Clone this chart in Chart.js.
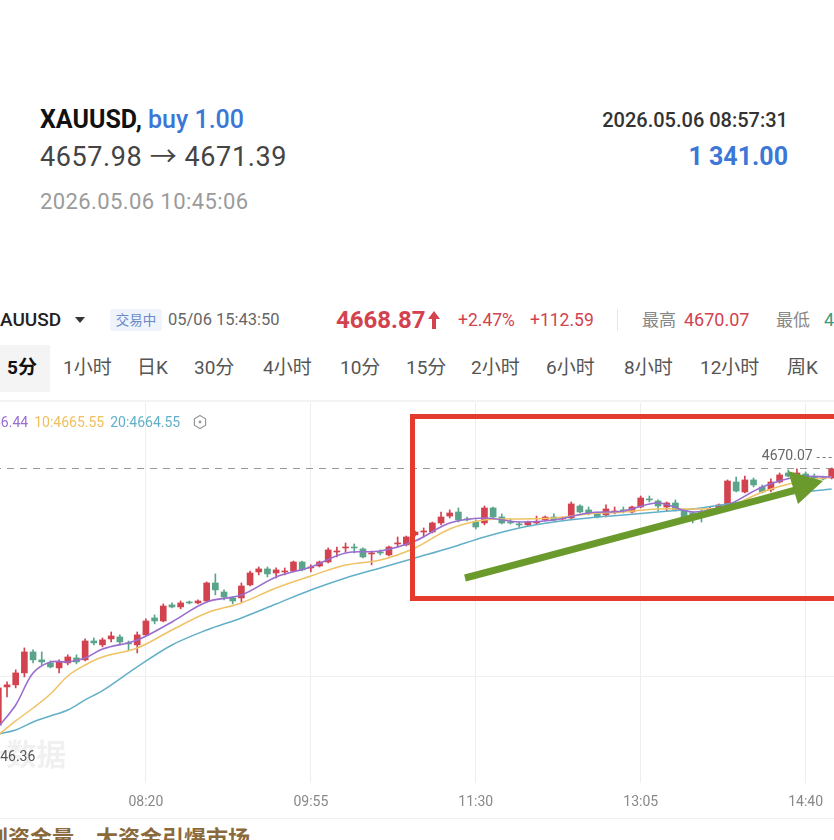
<!DOCTYPE html>
<html>
<head>
<meta charset="utf-8">
<script src="https://cdn.jsdelivr.net/npm/chart.js@4.4.1/dist/chart.umd.min.js"></script>
<style>
  html, body { margin: 0; padding: 0; background: #fff; }
  body { width: 834px; height: 840px; overflow: hidden; position: relative;
         font-family: Roboto, "Noto Sans CJK SC", sans-serif; }
  .abs { position: absolute; white-space: nowrap; }
  .red { color: #d2424f; }
  .tab { position: absolute; top: 356px; font-size: 19px; line-height: 24px; color: #555; white-space: nowrap; }
  .lg { font-size: 14px; line-height: 18px; margin-right: 6px; }
</style>
</head>
<body>

<!-- trade header -->
<div class="abs" style="left:40px;top:105px;font-size:25px;line-height:30px;">
  <b style="color:#111">XAUUSD,</b> <span style="color:#3b77d6;font-weight:500">buy 1.00</span>
</div>
<div class="abs" style="left:40px;top:141px;font-size:27px;line-height:32px;color:#444;letter-spacing:0.6px">4657.98 → 4671.39</div>
<div class="abs" style="left:40px;top:190px;font-size:22px;line-height:24px;color:#9b9b9b;letter-spacing:0.4px">2026.05.06 10:45:06</div>
<div class="abs" style="right:46px;top:108px;font-size:20px;line-height:24px;color:#333;font-weight:500">2026.05.06 08:57:31</div>
<div class="abs" style="right:46px;top:142px;font-size:25px;line-height:30px;color:#3b77d6;font-weight:700">1 341.00</div>

<!-- quote bar -->
<div class="abs" style="left:-12px;top:308px;font-size:19px;line-height:24px;color:#222;font-weight:500">XAUUSD</div>
<div class="abs" style="left:75px;top:317px;width:0;height:0;border-left:5px solid transparent;border-right:5px solid transparent;border-top:6px solid #333"></div>
<div class="abs" style="left:110px;top:309px;width:52px;height:22px;background:#eef3fc;border-radius:3px;color:#6a88c8;font-size:13.5px;line-height:22px;text-align:center">交易中</div>
<div class="abs" style="left:168px;top:310px;font-size:16.5px;line-height:20px;color:#666">05/06 15:43:50</div>
<div class="abs red" style="left:336px;top:306px;font-size:24px;line-height:28px;font-weight:700">4668.87</div>
<svg class="abs" style="left:427px;top:310px" width="14" height="20" viewBox="0 0 14 20">
  <path d="M7 1 L13 9 L9 9 L9 19 L5 19 L5 9 L1 9 Z" fill="#d2424f"/>
</svg>
<div class="abs red" style="left:458px;top:309px;font-size:17.5px;line-height:22px">+2.47%</div>
<div class="abs red" style="left:530px;top:309px;font-size:17.5px;line-height:22px">+112.59</div>
<div class="abs" style="left:617px;top:309px;width:1px;height:22px;background:#e6e6e6"></div>
<div class="abs" style="left:642px;top:309px;font-size:17px;line-height:22px;color:#888">最高</div>
<div class="abs red" style="left:684px;top:309px;font-size:18px;line-height:22px">4670.07</div>
<div class="abs" style="left:776px;top:309px;font-size:17px;line-height:22px;color:#888">最低</div>
<div class="abs" style="left:824px;top:309px;font-size:18px;line-height:22px;color:#3a9a7c">4646.36</div>

<!-- period tabs -->
<div class="abs" style="left:0;top:345px;width:50px;height:47px;background:#f4f4f4"></div>
<div class="tab" style="left:7px;color:#111;font-weight:700">5分</div>
<div class="tab" style="left:63px">1小时</div>
<div class="tab" style="left:137px">日K</div>
<div class="tab" style="left:194px">30分</div>
<div class="tab" style="left:263px">4小时</div>
<div class="tab" style="left:340px">10分</div>
<div class="tab" style="left:406px">15分</div>
<div class="tab" style="left:471px">2小时</div>
<div class="tab" style="left:546px">6小时</div>
<div class="tab" style="left:624px">8小时</div>
<div class="tab" style="left:700px">12小时</div>
<div class="tab" style="left:787px">周K</div>

<div class="abs" style="left:0;top:400px;width:834px;height:2px;background:#f3f3f3"></div>

<!-- chart -->
<div class="abs" style="left:-6px;top:403px;width:842px;height:410px">
  <canvas id="kline" width="842" height="410"></canvas>
</div>

<!-- MA legend -->
<div class="abs" style="left:-34px;top:412px">
  <span class="lg" style="color:#9a6dd0">5:4666.44</span><span class="lg" style="color:#eebf5c">10:4665.55</span><span class="lg" style="color:#62b0c8">20:4664.55</span>
</div>
<svg class="abs" style="left:192px;top:414px" width="16" height="16" viewBox="0 0 16 16">
  <path d="M8 1.5 L13.6 4.75 L13.6 11.25 L8 14.5 L2.4 11.25 L2.4 4.75 Z" fill="none" stroke="#999" stroke-width="1.2"/>
  <circle cx="8" cy="8" r="1.4" fill="#999"/>
</svg>

<div class="abs" style="left:0;top:818px;width:834px;height:1px;background:#f1f1f1"></div>
<div class="abs" style="left:-14px;top:824px;font-size:22px;line-height:30px;font-weight:700;color:#8a6a3c">到资金量　大资金引爆市场</div>

<!-- hand-drawn annotations -->
<svg class="abs" style="left:0;top:0;pointer-events:none" width="834" height="840">
  <rect x="412.5" y="416.5" width="440" height="182" fill="none" stroke="#e33b2e" stroke-width="5"/>
  <line x1="465" y1="578" x2="796" y2="490" stroke="#6b9a2c" stroke-width="7"/>
  <polygon points="823,481 788,471 798,504" fill="#6b9a2c"/>
</svg>

<script>
// --- 5-minute candles, 06:55 to 14:55 ---
const times = Array.from({ length: 97 }, (_, i) => {
  const m = 6 * 60 + 55 + 5 * i;
  return String(Math.floor(m / 60)).padStart(2, '0') + ':' + String(m % 60).padStart(2, '0');
});
const tickLabels = ['08:20', '09:55', '11:30', '13:05', '14:40'];

const opens = [
  4648.99, 4652.11, 4652.28, 4653.26, 4654.98, 4654.33, 4654.08, 4653.67, 4654.08, 4654.49,
  4654.33, 4655.88, 4655.56, 4656.05, 4656.21, 4655.72, 4655.56, 4656.38, 4657.77, 4657.52,
  4658.84, 4658.67, 4659.08, 4659.00, 4659.16, 4660.64, 4659.90, 4659.41, 4659.41, 4660.48,
  4661.54, 4661.79, 4661.46, 4661.54, 4661.62, 4662.36, 4661.87, 4662.03, 4662.36, 4663.18,
  4663.51, 4663.59, 4663.43, 4663.02, 4663.18, 4662.94, 4663.84, 4663.76, 4664.58, 4664.82,
  4664.82, 4665.56, 4666.13, 4666.46, 4665.89, 4665.64, 4665.56, 4666.79, 4666.05, 4665.64,
  4665.48, 4665.40, 4665.56, 4665.81, 4666.05, 4665.89, 4665.97, 4666.95, 4666.63, 4666.38,
  4666.22, 4666.46, 4666.63, 4666.46, 4666.87, 4667.53, 4667.36, 4666.87, 4667.20, 4666.54,
  4666.38, 4666.38, 4666.46, 4666.46, 4667.12, 4668.92, 4668.10, 4669.09, 4668.51, 4668.27,
  4668.92, 4669.66, 4669.33, 4669.58, 4669.33, 4669.25, 4669.25
];
const highs = [
  4652.44, 4652.52, 4653.51, 4655.31, 4655.15, 4654.98, 4654.25, 4654.33, 4654.74, 4654.74,
  4656.05, 4656.13, 4656.13, 4656.62, 4656.38, 4655.88, 4656.62, 4657.69, 4658.02, 4658.92,
  4659.00, 4659.16, 4659.16, 4659.25, 4660.72, 4661.38, 4660.07, 4659.49, 4660.64, 4661.62,
  4661.95, 4661.95, 4661.87, 4661.87, 4662.44, 4662.44, 4662.12, 4662.44, 4663.51, 4663.59,
  4663.92, 4663.84, 4663.51, 4663.26, 4663.35, 4663.67, 4664.41, 4664.49, 4664.90, 4665.15,
  4665.64, 4666.46, 4666.63, 4666.79, 4666.05, 4665.81, 4666.95, 4666.87, 4666.30, 4665.89,
  4665.64, 4665.72, 4666.13, 4666.13, 4666.30, 4666.05, 4667.28, 4667.04, 4666.87, 4666.46,
  4667.04, 4666.87, 4666.87, 4666.95, 4667.77, 4667.77, 4667.45, 4667.28, 4667.45, 4666.63,
  4666.46, 4666.63, 4666.87, 4667.12, 4669.09, 4669.33, 4669.41, 4669.25, 4668.68, 4669.17,
  4669.66, 4669.91, 4669.99, 4669.74, 4669.58, 4669.41, 4670.07
];
const lows = [
  4646.36, 4651.29, 4652.03, 4652.93, 4654.08, 4653.92, 4653.67, 4653.26, 4653.92, 4654.00,
  4654.25, 4655.56, 4655.39, 4655.80, 4655.56, 4655.15, 4654.90, 4656.29, 4657.28, 4657.44,
  4658.59, 4658.51, 4658.92, 4658.92, 4659.08, 4659.66, 4659.25, 4658.92, 4659.08, 4660.39,
  4661.30, 4661.13, 4661.05, 4661.30, 4661.54, 4661.62, 4661.54, 4661.95, 4662.28, 4662.77,
  4663.18, 4663.10, 4662.69, 4662.12, 4662.94, 4662.85, 4663.59, 4663.67, 4664.49, 4664.41,
  4664.74, 4665.40, 4665.97, 4665.64, 4665.72, 4665.07, 4665.40, 4665.97, 4665.48, 4665.48,
  4665.23, 4665.31, 4665.48, 4665.72, 4665.72, 4665.81, 4665.89, 4666.38, 4666.22, 4665.97,
  4666.05, 4666.30, 4666.38, 4666.38, 4666.79, 4667.28, 4666.54, 4666.54, 4666.54, 4665.64,
  4665.56, 4665.64, 4666.30, 4666.38, 4667.04, 4668.10, 4668.02, 4668.51, 4668.02, 4668.10,
  4668.84, 4669.33, 4669.25, 4669.09, 4669.17, 4669.09, 4669.17
];
const closes = [
  4652.03, 4652.28, 4653.26, 4654.98, 4654.33, 4654.16, 4653.75, 4654.16, 4654.57, 4654.16,
  4655.88, 4655.72, 4655.97, 4656.29, 4655.80, 4655.64, 4656.38, 4657.52, 4657.52, 4658.75,
  4658.67, 4659.00, 4659.00, 4659.16, 4660.64, 4660.07, 4659.49, 4659.16, 4660.39, 4661.46,
  4661.79, 4661.38, 4661.71, 4661.62, 4662.36, 4661.71, 4661.95, 4662.36, 4663.35, 4663.26,
  4663.59, 4663.51, 4662.77, 4663.10, 4663.10, 4663.59, 4663.92, 4664.41, 4664.82, 4664.90,
  4665.56, 4666.05, 4666.38, 4665.81, 4665.81, 4665.23, 4666.79, 4666.05, 4665.56, 4665.56,
  4665.40, 4665.64, 4665.64, 4666.05, 4665.81, 4665.97, 4667.12, 4666.46, 4666.38, 4666.05,
  4666.71, 4666.54, 4666.54, 4666.87, 4667.61, 4667.45, 4666.95, 4667.20, 4666.63, 4665.97,
  4666.05, 4666.05, 4666.71, 4667.04, 4669.00, 4668.18, 4669.09, 4668.68, 4668.10, 4668.92,
  4669.50, 4669.41, 4669.66, 4669.33, 4669.25, 4669.17, 4669.99
];

// --- Moving averages at these candle positions ---
const maIdx = [0, 2, 4, 6, 8, 10, 12, 16, 20, 24, 28, 32, 36, 40, 44, 48, 52, 56, 60, 64, 68, 72, 76, 80, 84, 88, 92, 96];
const ma5 = [4648.82, 4650.63, 4653.25, 4654.16, 4654.16, 4654.48, 4655.22, 4655.96, 4657.44, 4659.08, 4659.65, 4661.13, 4661.95, 4663.10,
             4663.26, 4664.08, 4665.56, 4665.97, 4665.64, 4665.80, 4666.38, 4666.54, 4667.20, 4666.46, 4667.03, 4668.51, 4669.33, 4669.33];
const ma10 = [4648.17, 4649.32, 4650.38, 4651.53, 4653.01, 4653.91, 4654.57, 4655.30, 4656.78, 4658.18, 4659.00, 4660.23, 4661.21, 4662.11,
              4662.52, 4663.51, 4665.07, 4665.80, 4665.89, 4665.97, 4666.30, 4666.46, 4666.71, 4666.71, 4666.87, 4668.10, 4668.92, 4669.33];
const ma20 = [4648.25, 4648.58, 4649.23, 4649.73, 4650.22, 4651.05, 4651.80, 4653.75, 4655.55, 4656.78, 4657.77, 4658.91, 4660.06, 4661.05,
              4661.87, 4662.69, 4663.51, 4664.41, 4665.15, 4665.64, 4665.97, 4666.21, 4666.46, 4666.71, 4667.12, 4667.53, 4668.02, 4668.35];

const yGrid = [4652.93];

const UP = '#d2434f', DOWN = '#5aa58a';
const candleColors = closes.map((c, i) => c >= opens[i] ? UP : DOWN);
const maLine = vals => maIdx.map((k, j) => ({ x: times[k], y: vals[j] }));

// --- high / low markers, watermark ---
const markers = {
  id: 'markers',
  beforeDatasetsDraw(chart) {
    const { ctx, chartArea: a, scales: { x, y } } = chart;
    const lo = Math.min(...lows);
    ctx.save();
    ctx.font = 'bold 30px "Noto Sans CJK SC"';
    ctx.fillStyle = 'rgba(0,0,0,0.06)';
    ctx.textAlign = 'right'; ctx.textBaseline = 'middle';
    ctx.fillText('金十数据', x.getPixelForValue(0) + 68, y.getPixelForValue(lo) - 3);

    const yh = Math.round(y.getPixelForValue(Math.max(...highs))) + 0.5;
    ctx.strokeStyle = '#999'; ctx.lineWidth = 1; ctx.setLineDash([7, 6]);
    ctx.beginPath(); ctx.moveTo(a.left, yh); ctx.lineTo(a.right, yh); ctx.stroke();
    ctx.restore();
  },
  afterDatasetsDraw(chart) {
    const { ctx, scales: { x, y } } = chart;
    const hi = Math.max(...highs), lo = Math.min(...lows);
    const xh = x.getPixelForValue(highs.indexOf(hi)), xl = x.getPixelForValue(lows.indexOf(lo));
    ctx.save();
    ctx.font = '14px Roboto';
    ctx.textBaseline = 'middle'; ctx.textAlign = 'right';
    ctx.fillStyle = '#666';
    ctx.fillText(hi.toFixed(2), xh - 19, y.getPixelForValue(hi) - 11);
    ctx.strokeStyle = '#777'; ctx.lineWidth = 1; ctx.setLineDash([3, 3]);
    ctx.beginPath();
    ctx.moveTo(xh - 15, Math.round(y.getPixelForValue(hi) - 11) + 0.5);
    ctx.lineTo(xh, Math.round(y.getPixelForValue(hi) - 11) + 0.5);
    ctx.stroke();
    ctx.fillStyle = '#555';
    ctx.fillText(lo.toFixed(2), xl + 37, y.getPixelForValue(lo));
    ctx.restore();
  }
};

new Chart(document.getElementById('kline').getContext('2d'), {
  type: 'bar',
  data: {
    labels: times,
    datasets: [
      { type: 'line', label: 'MA5', data: maLine(ma5), borderColor: '#9a6dd0', borderWidth: 1.6, pointRadius: 0, tension: 0.35, order: 0 },
      { type: 'line', label: 'MA10', data: maLine(ma10), borderColor: '#f0c264', borderWidth: 1.5, pointRadius: 0, tension: 0.35, order: 0 },
      { type: 'line', label: 'MA20', data: maLine(ma20), borderColor: '#62b0c8', borderWidth: 1.5, pointRadius: 0, tension: 0.35, order: 0 },
      {
        label: 'wick', data: lows.map((l, i) => [l, highs[i]]),
        backgroundColor: candleColors, barThickness: 1, grouped: false, order: 2
      },
      {
        label: 'body', data: opens.map((o, i) => [o, closes[i]]),
        backgroundColor: candleColors, barThickness: 6, minBarLength: 1, grouped: false, order: 1
      }
    ]
  },
  options: {
    responsive: false, animation: false, devicePixelRatio: 1,
    layout: { padding: 0 },
    plugins: { legend: { display: false }, tooltip: { enabled: false } },
    scales: {
      x: {
        offset: true,
        grid: { offset: false, color: '#eeeeee', drawTicks: false },
        border: { display: false },
        ticks: { autoSkip: false, maxRotation: 0, color: '#888', font: { size: 14, family: 'Roboto' }, padding: 11 },
        afterBuildTicks: s => { s.ticks = s.ticks.filter(t => tickLabels.includes(times[t.value])); },
        afterFit: s => { s.height = 30; }
      },
      y: {
        min: 4644.23, max: 4675.40,
        grid: { color: '#f0f0f0', drawTicks: false },
        border: { display: false },
        ticks: { display: false },
        afterBuildTicks: s => { s.ticks = yGrid.map(v => ({ value: v })); },
        afterFit: s => { s.width = 0; }
      }
    }
  },
  plugins: [markers]
});
</script>
</body>
</html>
